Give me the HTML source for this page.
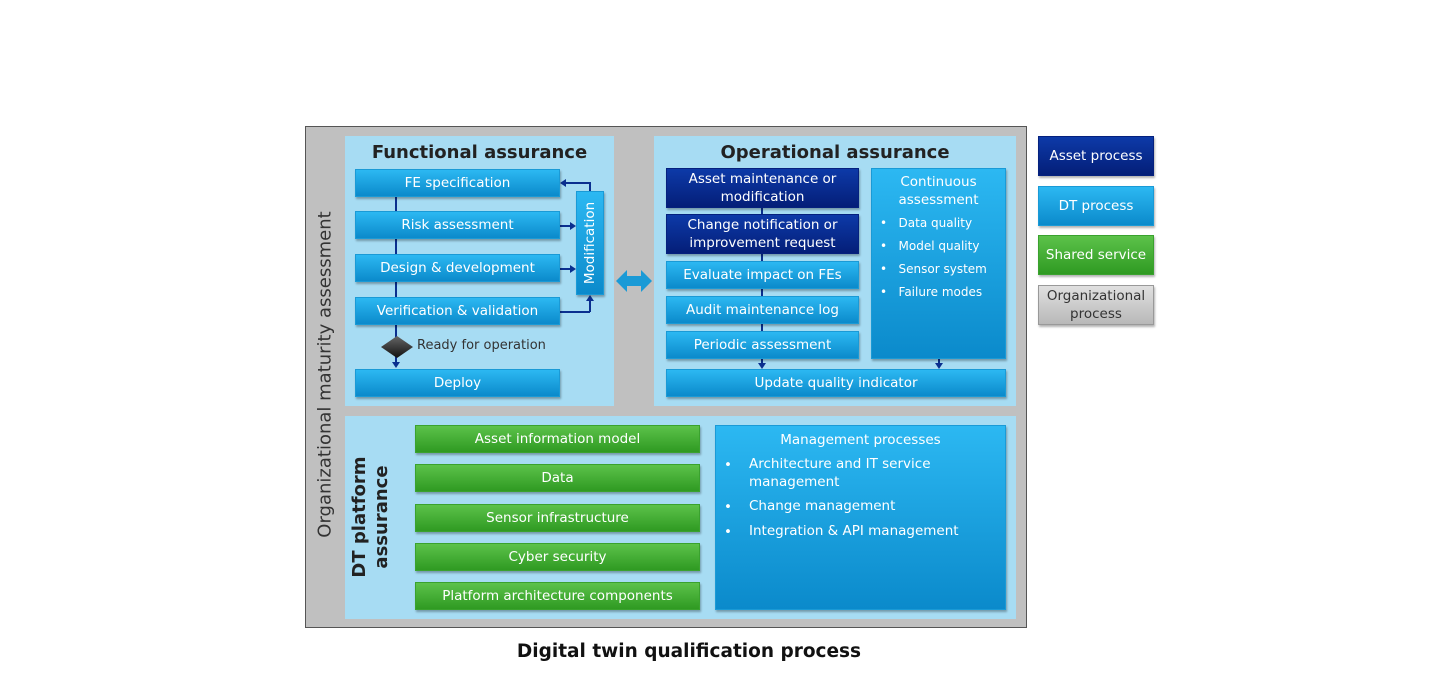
<!DOCTYPE html>
<html><head><style>
body{margin:0;width:1432px;height:680px;background:#fff;position:relative;font-family:"DejaVu Sans","Liberation Sans",sans-serif;overflow:hidden}
div{position:absolute;box-sizing:border-box}
.b{background:linear-gradient(#2cb8f2,#0b8acb);color:#fff;font-size:13.5px;display:flex;align-items:center;justify-content:center;text-align:center;line-height:18px;box-shadow:1px 2px 2px rgba(0,0,0,.3);border:1px solid #1a9ad6}
.d{background:linear-gradient(#0d3aa8,#041e78);border-color:#05217e}
.g{background:linear-gradient(#5cc24a,#2f9a22);border-color:#3aa22e}
.p{background:#a7dcf3}
.ln{background:#0a2f8f}
.ah{width:0;height:0;border-left:4px solid transparent;border-right:4px solid transparent;border-top:6px solid #0a2f8f}
.ar{width:0;height:0;border-top:4px solid transparent;border-bottom:4px solid transparent;border-left:6px solid #0a2f8f}
.al{width:0;height:0;border-top:4px solid transparent;border-bottom:4px solid transparent;border-right:6px solid #0a2f8f}
.au{width:0;height:0;border-left:4px solid transparent;border-right:4px solid transparent;border-bottom:6px solid #0a2f8f}
ul{margin:0;padding:0;list-style:none}
</style></head><body>
<div style="left:305px;top:126px;width:722px;height:502px;background:#c0c0c0;border:1.5px solid #555"></div>
<div class="p" style="left:345px;top:136px;width:269px;height:270px"></div>
<div class="p" style="left:654px;top:136px;width:362px;height:270px"></div>
<div class="p" style="left:345px;top:416px;width:671px;height:203px"></div>
<div style="left:325px;top:375px;width:0;height:0"><div style="left:-200px;top:-11px;width:400px;text-align:center;transform:rotate(-90deg);font-size:18px;color:#333;white-space:nowrap">Organizational maturity assessment</div></div>
<div style="left:345px;top:142px;width:269px;text-align:center;font-weight:bold;font-size:18px;color:#222">Functional assurance</div>
<div style="left:654px;top:142px;width:362px;text-align:center;font-weight:bold;font-size:18px;color:#222">Operational assurance</div>
<!-- functional connectors -->
<div class="ln" style="left:395px;top:196px;width:2px;height:168px"></div>
<div class="ah" style="left:392px;top:362px"></div>
<svg style="position:absolute;left:380px;top:335px" width="34" height="24"><defs><linearGradient id="dg" x1="0" y1="0" x2="0" y2="1"><stop offset="0" stop-color="#666"/><stop offset="1" stop-color="#111"/></linearGradient></defs><polygon points="1,12 17,1 33,12 17,23" fill="url(#dg)"/></svg>
<div style="left:417px;top:338px;font-size:13px;color:#333">Ready for operation</div>
<div class="ln" style="left:566px;top:182px;width:24px;height:2px"></div>
<div class="ln" style="left:589px;top:182px;width:2px;height:10px"></div>
<div class="al" style="left:560px;top:179px"></div>
<div class="ln" style="left:560px;top:225px;width:10px;height:2px"></div><div class="ar" style="left:570px;top:222px"></div>
<div class="ln" style="left:560px;top:268px;width:10px;height:2px"></div><div class="ar" style="left:570px;top:265px"></div>
<div class="ln" style="left:560px;top:311px;width:30px;height:2px"></div>
<div class="ln" style="left:589px;top:301px;width:2px;height:11px"></div><div class="au" style="left:586px;top:295px"></div>
<div class="b" style="left:355px;top:169px;width:205px;height:28px">FE specification</div>
<div class="b" style="left:355px;top:211px;width:205px;height:28px">Risk assessment</div>
<div class="b" style="left:355px;top:254px;width:205px;height:28px">Design &amp; development</div>
<div class="b" style="left:355px;top:297px;width:205px;height:28px">Verification &amp; validation</div>
<div class="b" style="left:355px;top:369px;width:205px;height:28px">Deploy</div>
<div class="b" style="left:576px;top:191px;width:28px;height:104px"><span style="transform:rotate(-90deg);white-space:nowrap;display:block">Modification</span></div>
<!-- double arrow -->
<svg style="position:absolute;left:616px;top:268px" width="36" height="26"><polygon points="0,13 11,2 11,8 25,8 25,2 36,13 25,24 25,18 11,18 11,24" fill="#1a9ad6"/></svg>
<!-- operational -->
<div class="ln" style="left:761px;top:206px;width:2px;height:160px"></div>
<div class="ah" style="left:758px;top:363px"></div>
<div class="ln" style="left:938px;top:358px;width:2px;height:6px"></div>
<div class="ah" style="left:935px;top:363px"></div>
<div class="b d" style="left:666px;top:168px;width:193px;height:40px">Asset maintenance or<br>modification</div>
<div class="b d" style="left:666px;top:214px;width:193px;height:40px">Change notification or<br>improvement request</div>
<div class="b" style="left:666px;top:261px;width:193px;height:28px">Evaluate impact on FEs</div>
<div class="b" style="left:666px;top:296px;width:193px;height:28px">Audit maintenance log</div>
<div class="b" style="left:666px;top:331px;width:193px;height:28px">Periodic assessment</div>
<div class="b" style="left:666px;top:369px;width:340px;height:28px">Update quality indicator</div>
<div class="b" style="left:871px;top:168px;width:135px;height:191px;align-items:flex-start;justify-content:flex-start;display:block;padding-top:4px">
<div style="position:static;text-align:center;font-size:13.5px;line-height:18px">Continuous<br>assessment</div>
<ul style="font-size:12px;text-align:left;padding-left:8px;margin-top:3px">
<li style="line-height:23px">•&nbsp;&nbsp;&nbsp;Data quality</li><li style="line-height:23px">•&nbsp;&nbsp;&nbsp;Model quality</li><li style="line-height:23px">•&nbsp;&nbsp;&nbsp;Sensor system</li><li style="line-height:23px">•&nbsp;&nbsp;&nbsp;Failure modes</li></ul></div>
<!-- platform -->
<div style="left:371px;top:517px;width:0;height:0"><div style="left:-100px;top:-22px;width:200px;text-align:center;transform:rotate(-90deg);font-weight:bold;font-size:18px;line-height:22px;color:#222">DT platform<br>assurance</div></div>
<div class="b g" style="left:415px;top:425px;width:285px;height:28px">Asset information model</div>
<div class="b g" style="left:415px;top:464px;width:285px;height:28px">Data</div>
<div class="b g" style="left:415px;top:504px;width:285px;height:28px">Sensor infrastructure</div>
<div class="b g" style="left:415px;top:543px;width:285px;height:28px">Cyber security</div>
<div class="b g" style="left:415px;top:582px;width:285px;height:28px">Platform architecture components</div>
<div class="b" style="left:715px;top:425px;width:291px;height:185px;display:block;text-align:left;padding-top:5px">
<div style="position:static;text-align:center;font-size:13.5px">Management processes</div>
<div style="left:8px;top:30px;font-size:13.5px;line-height:18px">•</div><div style="left:33px;top:29px;font-size:13.5px;line-height:18px">Architecture and IT service<br>management</div>
<div style="left:8px;top:72px;font-size:13.5px">•</div><div style="left:33px;top:71px;font-size:13.5px">Change management</div>
<div style="left:8px;top:97px;font-size:13.5px">•</div><div style="left:33px;top:96px;font-size:13.5px">Integration &amp; API management</div>
</div>
<!-- legend -->
<div class="b d" style="left:1038px;top:136px;width:116px;height:40px">Asset process</div>
<div class="b" style="left:1038px;top:186px;width:116px;height:40px">DT process</div>
<div class="b g" style="left:1038px;top:235px;width:116px;height:40px">Shared service</div>
<div class="b" style="left:1038px;top:285px;width:116px;height:40px;background:linear-gradient(#e0e0e0,#b8b8b8);color:#333;border-color:#999">Organizational<br>process</div>
<div style="left:305px;top:641px;width:768px;text-align:center;font-weight:bold;font-size:18.5px;color:#111">Digital twin qualification process</div>
</body></html>
